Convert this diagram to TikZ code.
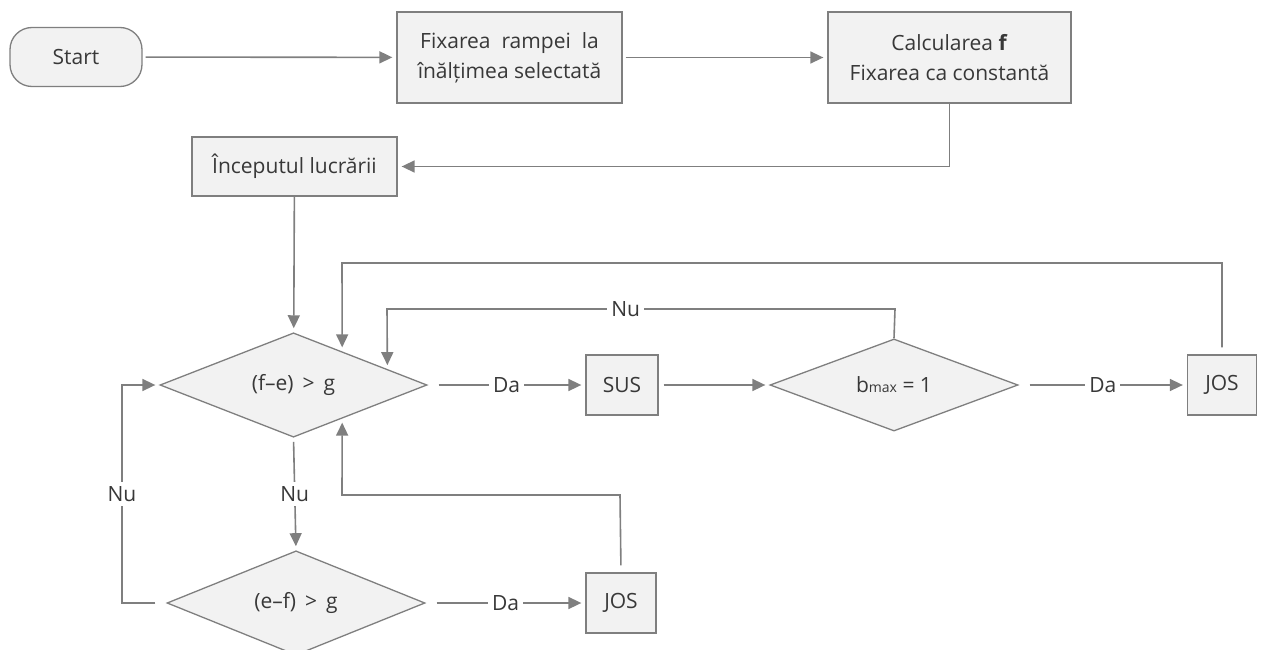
\documentclass[tikz,border=0pt]{standalone}
\usepackage{fontspec}
\setmainfont{Open Sans}
\usetikzlibrary{arrows.meta,shapes.geometric,calc}
\definecolor{ln}{HTML}{7F7F7F}
\definecolor{bx}{HTML}{F2F2F2}
\definecolor{tx}{HTML}{383838}
\begin{document}
\begin{tikzpicture}[x=1pt,y=-1pt,
  every node/.style={font=\fontsize{21}{30}\selectfont, text=tx},
  box/.style={draw=ln, fill=bx, line width=1.3pt, inner sep=0pt, align=center},
  dia/.style={draw=ln, fill=bx, line width=1.3pt, diamond, inner sep=0pt},
  conn/.style={draw=ln, line width=1.6pt},
  arr/.style={conn, -{Triangle[length=13pt,width=12pt]}, shorten >=4pt},
  lbl/.style={fill=white, inner sep=4pt}
]
\useasboundingbox (0,0) rectangle (1263,650);

% nodes
\node[box, rounded corners=22pt, minimum width=132pt, minimum height=59pt] (start) at (76,57) {Start};
\node[box, minimum width=225pt, minimum height=91pt] (fix) at (509.5,57.5) {Fixarea\ \ rampei\ \ la\\înălțimea selectată};
\node[box, minimum width=243pt, minimum height=91pt] (calc) at (949.5,57.5) {Calcularea \textbf{f}\\Fixarea ca constantă};
\node[box, minimum width=205pt, minimum height=59pt] (inc) at (294.5,166.5) {Începutul lucrării};
\node[dia, minimum width=267pt, minimum height=96pt] (d1) at (293.5,385) {(f–e) \,>\, g};
\node[box, minimum width=72pt, minimum height=60pt] (sus) at (622,385) {SUS};
\node[dia, minimum width=248pt, minimum height=90pt] (d2) at (894,385) {b{\fontsize{14}{14}\selectfont max} = 1};
\node[box, minimum width=69pt, minimum height=60pt] (jos2) at (1222,385) {JOS};
\node[dia, minimum width=258pt, minimum height=92pt] (d3) at (296,603) {(e–f) \,>\, g};
\node[box, minimum width=70pt, minimum height=60pt] (jos3) at (621,603) {JOS};

% points on the edges of d1
\coordinate (e1) at ($(d1.north)!0.363!(d1.east)$);
\coordinate (e2) at ($(d1.north)!0.70!(d1.east)$);
\coordinate (e3) at ($(d1.south)!0.363!(d1.east)$);

% connectors
\draw[arr, shorten <=3pt] (start) -- (fix);
\draw[arr, shorten <=3pt] (fix) -- (calc);
\draw[arr] (calc.south) |- (inc.east);
\draw[arr] (inc) -- (d1);
\draw[arr, shorten <=11pt] (d1.east) -- node[lbl, pos=0.5]{Da} (sus.west);
\draw[arr, shorten <=5pt] (sus) -- (d2);
\draw[arr, shorten <=11pt] (d2.east) -- node[lbl, pos=0.5]{Da} (jos2.west);
\draw[arr, shorten <=7pt] (jos2.north) -- (1222,263) -- (342,263) -- (e1);
\draw[arr] (d2.north) -- (895,309) -- node[lbl, pos=0.53]{Nu} (387,309) -- (e2);
\draw[arr, shorten <=4pt] (d1.south) -- node[lbl]{Nu} (d3.north);
\draw[arr, shorten <=11pt] (d3.west) -- (122,603) -- node[lbl]{Nu} (122,385) -- (d1.west);
\draw[arr, shorten <=11pt] (d3.east) -- node[lbl, pos=0.5]{Da} (jos3.west);
\draw[arr, shorten <=7pt] (jos3.north) -- (620,495) -- (342,495) -- (e3);
\end{tikzpicture}
\end{document}
